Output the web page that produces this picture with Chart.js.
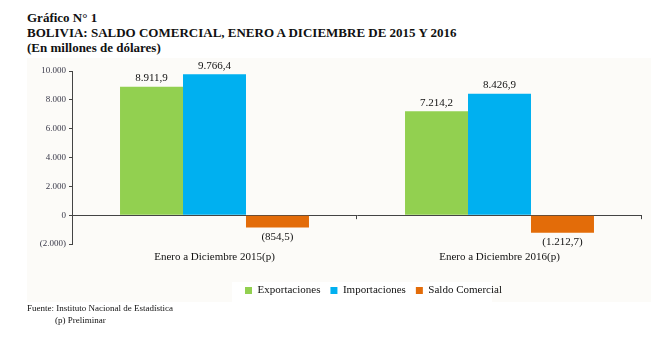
<!DOCTYPE html>
<html>
<head>
<meta charset="utf-8">
<script src="https://cdn.jsdelivr.net/npm/chart.js@4"></script>
<style>
  body { margin: 0; background: #fff; font-family: "Liberation Serif", serif; color: #111; }
  #wrap { position: relative; width: 660px; height: 344px; overflow: hidden; }
  .title { position: absolute; left: 27px; font-weight: bold; font-size: 13px; line-height: 15px; }
  #box { position: absolute; left: 27px; top: 58px; width: 624px; height: 244px; background: #fcfbf8; }
  #chart { position: absolute; left: 0; top: 0; }
  .foot { position: absolute; font-size: 9px; }
</style>
</head>
<body>
<div id="wrap">
  <div class="title" style="top:10px">Gráfico N° 1</div>
  <div class="title" style="top:25px">BOLIVIA: SALDO COMERCIAL, ENERO A DICIEMBRE DE 2015 Y 2016</div>
  <div class="title" style="top:40px">(En millones de dólares)</div>
  <div id="box"><canvas id="chart" width="624" height="248"></canvas></div>
  <div class="foot" style="left:27px; top:303px">Fuente: Instituto Nacional de Estadística</div>
  <div class="foot" style="left:55px; top:315px">(p) Preliminar</div>
</div>
<script>
const periods = ['Enero a Diciembre 2015(p)', 'Enero a Diciembre 2016(p)'];
const exportaciones = [8911.9, 7214.2];
const importaciones = [9766.4, 8426.9];
const saldo = [-854.5, -1212.7];
const yTicks = [-2000, 0, 2000, 4000, 6000, 8000, 10000];

function fmt(v, dec) {
  const parts = Math.abs(v).toFixed(dec).split('.');
  let s = parts[0].replace(/\B(?=(\d{3})+(?!\d))/g, '.');
  if (parts[1]) s += ',' + parts[1];
  return v < 0 ? '(' + s + ')' : s;
}

const serif = '"Liberation Serif", serif';

const labelsPlugin = {
  id: 'barLabels',
  afterDatasetsDraw(chart) {
    const ctx = chart.ctx;
    ctx.save();
    ctx.font = '11px ' + serif;
    ctx.fillStyle = '#111';
    ctx.textAlign = 'center';
    chart.data.datasets.forEach((ds, i) => {
      chart.getDatasetMeta(i).data.forEach((bar, j) => {
        const v = ds.data[j];
        if (v >= 0) {
          ctx.textBaseline = 'bottom';
          ctx.fillText(fmt(v, 1), bar.x, bar.y - 3);
        } else {
          ctx.textBaseline = 'top';
          ctx.fillText(fmt(v, 1), bar.x, bar.y + 4);
        }
      });
    });
    // small ticks on the zero line between categories
    const y0 = chart.scales.y.getPixelForValue(0);
    const area = chart.chartArea;
    const n = chart.data.labels.length;
    ctx.strokeStyle = '#444';
    ctx.lineWidth = 1;
    for (let i = 1; i <= n; i++) {
      const x = Math.round(area.left + i * (area.right - area.left) / n) - 0.5;
      ctx.beginPath();
      ctx.moveTo(x, y0);
      ctx.lineTo(x, y0 + 4);
      ctx.stroke();
    }
    ctx.restore();
  }
};

// legend sits a bit right of centre on a white strip
const legendBg = {
  id: 'legendBg',
  afterLayout(chart) {
    if (chart.legend) chart.legend.left += 78;
  },
  beforeDraw(chart) {
    const ctx = chart.ctx;
    ctx.save();
    ctx.fillStyle = '#ffffff';
    ctx.fillRect(205, 224, 260, 20);
    ctx.restore();
  }
};

new Chart(document.getElementById('chart'), {
  type: 'bar',
  data: {
    labels: periods,
    datasets: [
      { label: 'Exportaciones', data: exportaciones, backgroundColor: '#92d050' },
      { label: 'Importaciones', data: importaciones, backgroundColor: '#00b0f0' },
      { label: 'Saldo Comercial', data: saldo, backgroundColor: '#e36c09' }
    ]
  },
  options: {
    responsive: false,
    animation: false,
    layout: { padding: { top: 13, right: 9, left: 0, bottom: 0 } },
    plugins: {
      legend: {
        position: 'bottom',
        labels: {
          boxWidth: 7, boxHeight: 7, padding: 10,
          color: '#111',
          font: { family: serif, size: 11 }
        }
      },
      tooltip: { enabled: false }
    },
    datasets: { bar: { barPercentage: 1, categoryPercentage: 0.663 } },
    scales: {
      x: {
        grid: { display: false },
        border: { display: false },
        ticks: { color: '#111', font: { family: serif, size: 11 }, padding: -1 },
        afterFit(scale) { scale.height = 31; }
      },
      y: {
        min: -2000, max: 10000,
        afterBuildTicks(scale) { scale.ticks = yTicks.map(v => ({ value: v })); },
        border: { display: true, color: '#444', width: 1 },
        grid: {
          color: ctx => ctx.tick && ctx.tick.value === 0 ? '#444' : 'rgba(0,0,0,0)',
          tickColor: '#444',
          tickLength: 3,
          drawOnChartArea: true
        },
        ticks: {
          color: '#3a3a4a',
          font: { family: serif, size: 9 },
          padding: 3,
          callback: v => fmt(v, 0)
        },
        afterFit(scale) { scale.width = 45; }
      }
    }
  },
  plugins: [labelsPlugin, legendBg]
});
</script>
</body>
</html>
